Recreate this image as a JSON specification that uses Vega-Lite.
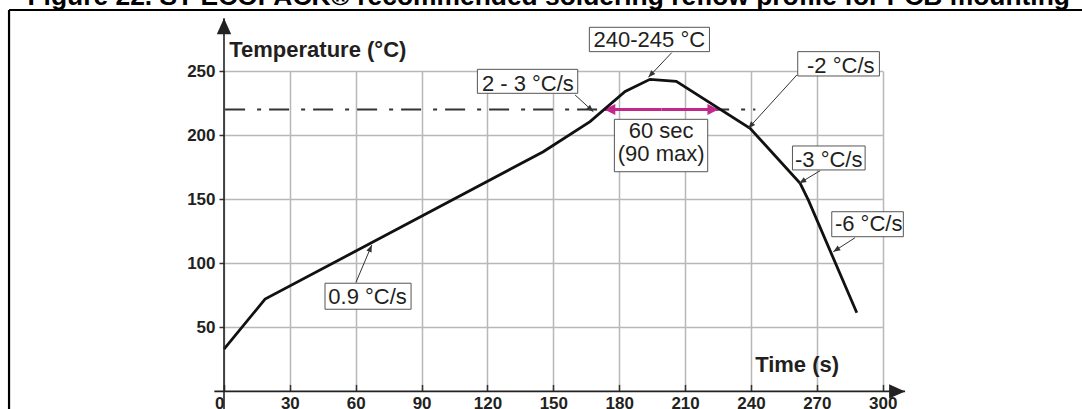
{
  "$schema": "https://vega.github.io/schema/vega-lite/v6.json",
  "width": 658.7,
  "height": 320.4,
  "autosize": {"type": "none"},
  "padding": {"left": 224, "top": 71, "right": 199.3, "bottom": 17.6},
  "background": "#ffffff",
  "config": {"view": {"stroke": null}, "font": "Liberation Sans"},
  "datasets": {
    "curve": [
      {"t": 0, "T": 33}, {"t": 18.7, "T": 72}, {"t": 145.4, "T": 187}, {"t": 166.7, "T": 210.5},
      {"t": 182.7, "T": 234}, {"t": 194, "T": 243.5}, {"t": 206, "T": 242}, {"t": 239.6, "T": 205.3},
      {"t": 262.4, "T": 162.4}, {"t": 266.1, "T": 149.4}, {"t": 288.2, "T": 61.4}
    ],
    "frame": [
      {"t": -97.9, "T": 297.6, "t2": 420, "T2": 297.6},
      {"t": -97.9, "T": -20, "t2": -97.9, "T2": 297.6}
    ],
    "axisLines": [
      {"t": 310.2, "T": 0, "t2": -4.4, "T2": 0},
      {"t": 0, "T": 291.1, "t2": 0, "T2": -14}
    ],
    "liquidus": [{"t": 0.5, "T": 220, "t2": 242, "T2": 220}],
    "window": [
      {"t": 173.2, "T": 220, "t2": 199.2, "T2": 220},
      {"t": 225.2, "T": 220, "t2": 199.2, "T2": 220}
    ],
    "leaders": [
      {"t": 193.3, "T": 245.1, "t2": 203.9, "T2": 264.3},
      {"t": 168.2, "T": 218.3, "t2": 159.9, "T2": 231.3},
      {"t": 238.8, "T": 205.3, "t2": 260.9, "T2": 246.9},
      {"t": 262.0, "T": 162.4, "t2": 271.5, "T2": 172.2},
      {"t": 277.5, "T": 109.0, "t2": 287.4, "T2": 119.9},
      {"t": 67.3, "T": 114.2, "t2": 60.1, "T2": 85.1}
    ],
    "boxes": [
      {"t": 166.4, "T": 265.1, "t2": 221.1, "T2": 284.1},
      {"t": 115.4, "T": 232.6, "t2": 161.1, "T2": 251.3},
      {"t": 177.8, "T": 171.4, "t2": 220.3, "T2": 212.3},
      {"t": 261.3, "T": 246.1, "t2": 298.5, "T2": 265.1},
      {"t": 258.9, "T": 172.8, "t2": 292.0, "T2": 191.5},
      {"t": 276.8, "T": 120.7, "t2": 309.4, "T2": 140.2},
      {"t": 46.0, "T": 64.1, "t2": 85.2, "T2": 84.4}
    ],
    "notes": [
      {"t": 193.7, "T": 269.0, "label": "240-245 °C"},
      {"t": 138.4, "T": 234.6, "label": "2 - 3 °C/s"},
      {"t": 199.1, "T": 197.5, "label": "60 sec"},
      {"t": 199.1, "T": 179.8, "label": "(90 max)"},
      {"t": 280.9, "T": 248.7, "label": "-2 °C/s"},
      {"t": 275.4, "T": 175.4, "label": "-3 °C/s"},
      {"t": 293.6, "T": 125.4, "label": "-6 °C/s"},
      {"t": 65.4, "T": 68.2, "label": "0.9 °C/s"}
    ],
    "axisTitles": [
      {"t": 2.4, "T": 261.2, "label": "Temperature (°C)"},
      {"t": 241.9, "T": 14.9, "label": "Time (s)"}
    ],
    "caption": [
      {"t": -89.5, "T": 301.5, "label": "Figure 22. ST ECOPACK® recommended soldering reflow profile for PCB mounting"}
    ]
  },
  "encoding": {
    "x": {
      "field": "t", "type": "quantitative",
      "scale": {"domain": [0, 300], "nice": false, "zero": false},
      "axis": {
        "values": [0, 30, 60, 90, 120, 150, 180, 210, 240, 270, 300],
        "title": null, "domain": false,
        "grid": true, "gridColor": "#b8b8b8", "gridWidth": 1.5,
        "ticks": true, "tickSize": -7, "tickColor": "#333333", "tickWidth": 1.5,
        "labelFont": "Liberation Sans", "labelFontSize": 17, "labelFontWeight": "bold", "labelColor": "#231f20",
        "labelPadding": 11.5, "labelFlush": false, "labelOverlap": false,
        "labelAlign": {"condition": {"test": "datum.value === 0", "value": "right"}, "value": "center"}
      }
    },
    "y": {
      "field": "T", "type": "quantitative",
      "scale": {"domain": [0, 250], "nice": false, "zero": false},
      "axis": {
        "values": [50, 100, 150, 200, 250],
        "title": null, "domain": false,
        "grid": true, "gridColor": "#b8b8b8", "gridWidth": 1.5,
        "ticks": true, "tickSize": 5, "tickColor": "#333333", "tickWidth": 1.5,
        "labelFont": "Liberation Sans", "labelFontSize": 17, "labelFontWeight": "bold", "labelColor": "#231f20",
        "labelPadding": 4, "labelFlush": false, "labelOverlap": false
      }
    }
  },
  "layer": [
    {
      "data": {"name": "frame"},
      "mark": {"type": "rule", "color": "#000000", "strokeWidth": 2.2},
      "encoding": {"x2": {"field": "t2"}, "y2": {"field": "T2"}}
    },
    {
      "data": {"name": "caption"},
      "mark": {"type": "text", "font": "Liberation Sans", "fontWeight": "bold", "fontSize": 26.4, "align": "left", "baseline": "alphabetic", "color": "#000000"},
      "encoding": {"text": {"field": "label"}}
    },
    {
      "data": {"name": "liquidus"},
      "mark": {"type": "rule", "color": "#333333", "strokeWidth": 2, "strokeDash": [20, 12, 4, 8]},
      "encoding": {"x2": {"field": "t2"}, "y2": {"field": "T2"}}
    },
    {
      "data": {"name": "window"},
      "mark": {"type": "rule", "color": "#c2288c", "strokeWidth": 3},
      "encoding": {"x2": {"field": "t2"}, "y2": {"field": "T2"}}
    },
    {
      "data": {"name": "window"},
      "transform": [{"calculate": "atan2(-(datum.T - datum.T2) * 1.2815, (datum.t - datum.t2) * 2.19562) * 180 / PI", "as": "ang"}],
      "mark": {"type": "point", "shape": "M0,0L-2,-1L-2,1Z", "filled": true, "color": "#c2288c", "size": 121, "opacity": 1, "strokeWidth": 0},
      "encoding": {"angle": {"field": "ang", "type": "quantitative", "scale": null}}
    },
    {
      "data": {"name": "curve"},
      "mark": {"type": "line", "color": "#111111", "strokeWidth": 2.8, "strokeJoin": "miter"}
    },
    {
      "data": {"name": "axisLines"},
      "mark": {"type": "rule", "color": "#222222", "strokeWidth": 1.6},
      "encoding": {"x2": {"field": "t2"}, "y2": {"field": "T2"}}
    },
    {
      "data": {"name": "axisLines"},
      "transform": [{"calculate": "atan2(-(datum.T - datum.T2) * 1.2815, (datum.t - datum.t2) * 2.19562) * 180 / PI", "as": "ang"}],
      "mark": {"type": "point", "shape": "M0,0L-2,-0.9L-2,0.9Z", "filled": true, "color": "#222222", "size": 256, "opacity": 1, "strokeWidth": 0},
      "encoding": {"angle": {"field": "ang", "type": "quantitative", "scale": null}}
    },
    {
      "data": {"name": "leaders"},
      "mark": {"type": "rule", "color": "#333333", "strokeWidth": 1},
      "encoding": {"x2": {"field": "t2"}, "y2": {"field": "T2"}}
    },
    {
      "data": {"name": "leaders"},
      "transform": [{"calculate": "atan2(-(datum.T - datum.T2) * 1.2815, (datum.t - datum.t2) * 2.19562) * 180 / PI", "as": "ang"}],
      "mark": {"type": "point", "shape": "M0,0L-2,-0.8L-2,0.8Z", "filled": true, "color": "#333333", "size": 49, "opacity": 1, "strokeWidth": 0},
      "encoding": {"angle": {"field": "ang", "type": "quantitative", "scale": null}}
    },
    {
      "data": {"name": "boxes"},
      "mark": {"type": "rect", "fill": "#ffffff", "stroke": "#555555", "strokeWidth": 1},
      "encoding": {"x2": {"field": "t2"}, "y2": {"field": "T2"}}
    },
    {
      "data": {"name": "notes"},
      "mark": {"type": "text", "font": "Liberation Sans", "fontSize": 22, "align": "center", "baseline": "alphabetic", "color": "#231f20"},
      "encoding": {"text": {"field": "label"}}
    },
    {
      "data": {"name": "axisTitles"},
      "mark": {"type": "text", "font": "Liberation Sans", "fontWeight": "bold", "fontSize": 22, "align": "left", "baseline": "alphabetic", "color": "#231f20"},
      "encoding": {"text": {"field": "label"}}
    }
  ]
}
